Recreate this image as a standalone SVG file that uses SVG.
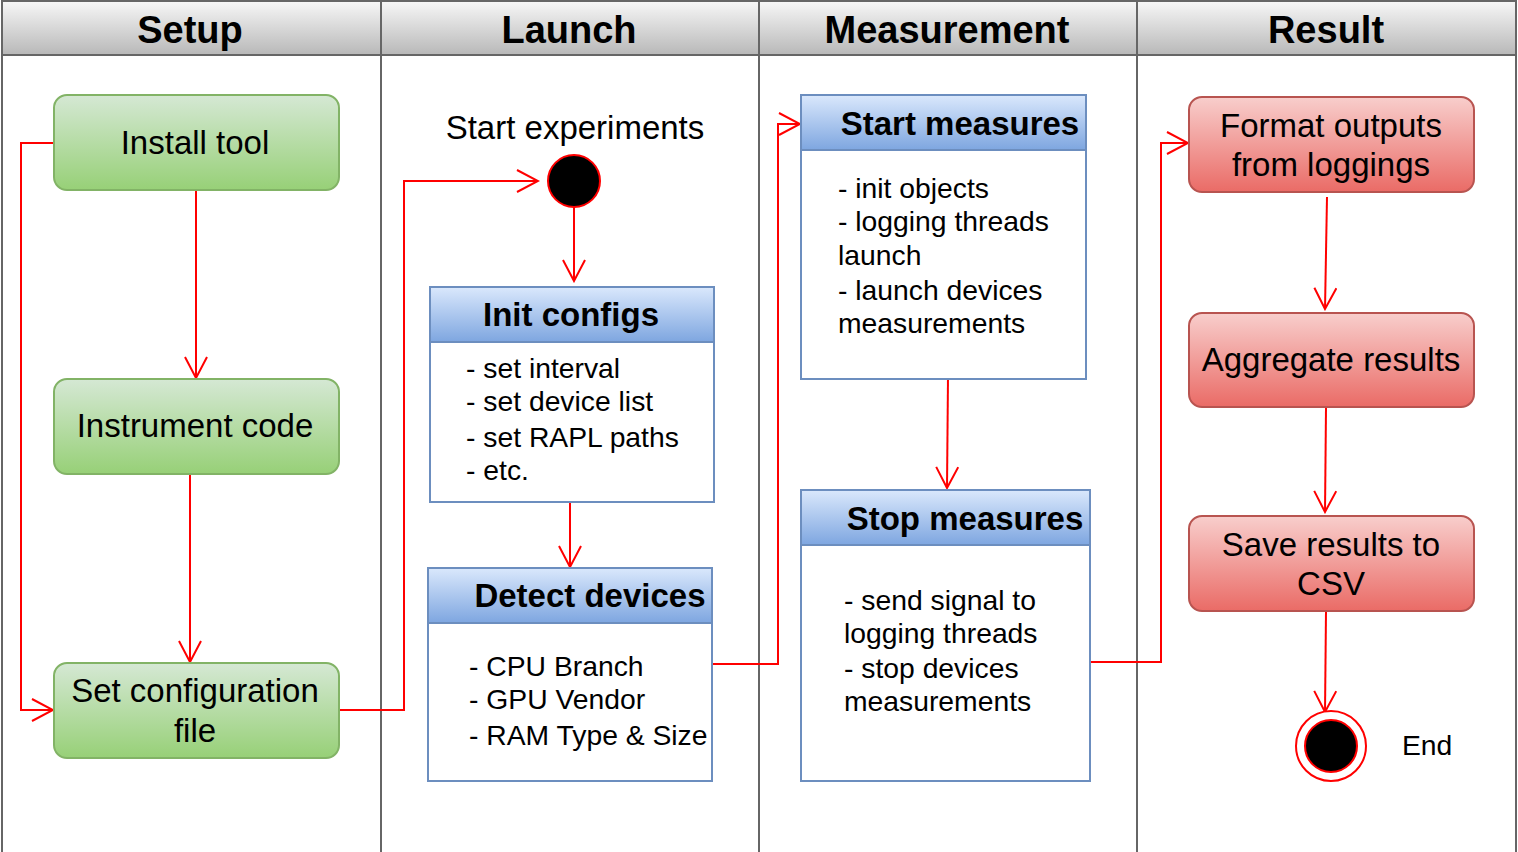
<svg xmlns="http://www.w3.org/2000/svg" width="1518" height="852" viewBox="0 0 1518 852">
<defs>
<linearGradient id="gHead" x1="0" y1="0" x2="0" y2="1"><stop offset="0" stop-color="#f7f7f7"/><stop offset="1" stop-color="#b8b8b8"/></linearGradient>
<linearGradient id="gGreen" x1="0" y1="0" x2="0" y2="1"><stop offset="0" stop-color="#d5e8d4"/><stop offset="1" stop-color="#97d077"/></linearGradient>
<linearGradient id="gRed" x1="0" y1="0" x2="0" y2="1"><stop offset="0" stop-color="#f8cecc"/><stop offset="1" stop-color="#ea6b66"/></linearGradient>
<linearGradient id="gBlue" x1="0" y1="0" x2="0" y2="1"><stop offset="0" stop-color="#dae8fc"/><stop offset="1" stop-color="#7ea6e0"/></linearGradient>
<marker id="arr" viewBox="0 0 24 24" markerUnits="userSpaceOnUse" markerWidth="24" markerHeight="24" refX="22" refY="12" orient="auto">
<path d="M1,1 L22,12 L1,23" fill="none" stroke="#ff0000" stroke-width="2"/>
</marker>
</defs>
<style>
text{font-family:"Liberation Sans",Arial,sans-serif;fill:#000}
.lane{fill:none;stroke:#666;stroke-width:2}
.hdr{fill:url(#gHead);stroke:#666;stroke-width:2}
.ht{font-size:38px;font-weight:bold;text-anchor:middle}
.green{fill:url(#gGreen);stroke:#82b366;stroke-width:2}
.red{fill:url(#gRed);stroke:#b85450;stroke-width:2}
.bhead{fill:url(#gBlue);stroke:#6c8ebf;stroke-width:2}
.bbody{fill:#fff;stroke:#6c8ebf;stroke-width:2}
.nt{font-size:33px;text-anchor:middle}
.bt{font-size:33px;font-weight:bold;text-anchor:middle}
.body{font-size:28.3px}
.conn path{fill:none;stroke:#ff0000;stroke-width:2}
</style>
<rect width="1518" height="852" fill="#fff"/>
<g id="lanes">
<rect class="hdr" x="2" y="1" width="379" height="54"/>
<rect class="hdr" x="381" y="1" width="378" height="54"/>
<rect class="hdr" x="759" y="1" width="378" height="54"/>
<rect class="hdr" x="1137" y="1" width="379" height="54"/>
<rect class="lane" x="2" y="55" width="379" height="798"/>
<rect class="lane" x="381" y="55" width="378" height="798"/>
<rect class="lane" x="759" y="55" width="378" height="798"/>
<rect class="lane" x="1137" y="55" width="379" height="798"/>
<text class="ht" x="190" y="43">Setup</text>
<text class="ht" x="569" y="43">Launch</text>
<text class="ht" x="947" y="43">Measurement</text>
<text class="ht" x="1326" y="43">Result</text>
</g>
<g class="conn" id="connectors">
<path d="M196,190 L196,378" marker-end="url(#arr)"/>
<path d="M190,474 L190,662" marker-end="url(#arr)"/>
<path d="M54,143 L21,143 L21,710 L53,710" marker-end="url(#arr)"/>
<path d="M339,710 L404,710 L404,181 L538,181" marker-end="url(#arr)"/>
<path d="M574,207 L574,281" marker-end="url(#arr)"/>
<path d="M570,497 L570,567" marker-end="url(#arr)"/>
<path d="M709,664 L778,664 L778,124 L800,124" marker-end="url(#arr)"/>
<path d="M948,377 L947,488" marker-end="url(#arr)"/>
<path d="M1090,662 L1161,662 L1161,143 L1188,143" marker-end="url(#arr)"/>
<path d="M1327,197 L1325,309" marker-end="url(#arr)"/>
<path d="M1326,408 L1325,512" marker-end="url(#arr)"/>
<path d="M1326,611 L1325,712" marker-end="url(#arr)"/>
</g>
<g id="install-tool">
<rect class="green" x="54" y="95" width="285" height="95" rx="13"/>
<text class="nt" x="195" y="154">Install tool</text>
</g>
<g id="instrument-code">
<rect class="green" x="54" y="379" width="285" height="95" rx="13"/>
<text class="nt" x="195" y="437">Instrument code</text>
</g>
<g id="set-config">
<rect class="green" x="54" y="663" width="285" height="95" rx="13"/>
<text class="nt" x="195" y="702">Set configuration</text>
<text class="nt" x="195" y="742">file</text>
</g>
<g id="start-experiments">
<text class="nt" x="575" y="139">Start experiments</text>
<circle cx="574" cy="181" r="26" fill="#000" stroke="#ff0000" stroke-width="2"/>
</g>
<g id="init-configs">
<rect class="bbody" x="430" y="287" width="284" height="215"/>
<rect class="bhead" x="430" y="287" width="284" height="55"/>
<text class="bt" x="571" y="326">Init configs</text>
<text class="body" x="466" y="378">- set interval</text>
<text class="body" x="466" y="411">- set device list</text>
<text class="body" x="466" y="447">- set RAPL paths</text>
<text class="body" x="466" y="480">- etc.</text>
</g>
<g id="detect-devices">
<rect class="bbody" x="428" y="568" width="284" height="213"/>
<rect class="bhead" x="428" y="568" width="284" height="55"/>
<text class="bt" x="590" y="607">Detect devices</text>
<text class="body" x="469" y="676">- CPU Branch</text>
<text class="body" x="469" y="709">- GPU Vendor</text>
<text class="body" x="469" y="745">- RAM Type &amp; Size</text>
</g>
<g id="start-measures">
<rect class="bbody" x="801" y="95" width="285" height="284"/>
<rect class="bhead" x="801" y="95" width="285" height="55"/>
<text class="bt" x="960" y="135">Start measures</text>
<text class="body" x="838" y="198">- init objects</text>
<text class="body" x="838" y="231">- logging threads</text>
<text class="body" x="838" y="265">launch</text>
<text class="body" x="838" y="300">- launch devices</text>
<text class="body" x="838" y="333">measurements</text>
</g>
<g id="stop-measures">
<rect class="bbody" x="801" y="490" width="289" height="291"/>
<rect class="bhead" x="801" y="490" width="289" height="55"/>
<text class="bt" x="965" y="530">Stop measures</text>
<text class="body" x="844" y="610">- send signal to</text>
<text class="body" x="844" y="643">logging threads</text>
<text class="body" x="844" y="678">- stop devices</text>
<text class="body" x="844" y="711">measurements</text>
</g>
<g id="format-outputs">
<rect class="red" x="1189" y="97" width="285" height="95" rx="13"/>
<text class="nt" x="1331" y="137">Format outputs</text>
<text class="nt" x="1331" y="176">from loggings</text>
</g>
<g id="aggregate-results">
<rect class="red" x="1189" y="313" width="285" height="94" rx="13"/>
<text class="nt" x="1331" y="371">Aggregate results</text>
</g>
<g id="save-results">
<rect class="red" x="1189" y="516" width="285" height="95" rx="13"/>
<text class="nt" x="1331" y="556">Save results to</text>
<text class="nt" x="1331" y="595">CSV</text>
</g>
<g id="end">
<circle cx="1331" cy="746" r="35" fill="#fff" stroke="#ff0000" stroke-width="2"/>
<circle cx="1331" cy="746" r="26" fill="#000" stroke="#ff0000" stroke-width="2"/>
<text class="body" x="1402" y="755">End</text>
</g>
</svg>
